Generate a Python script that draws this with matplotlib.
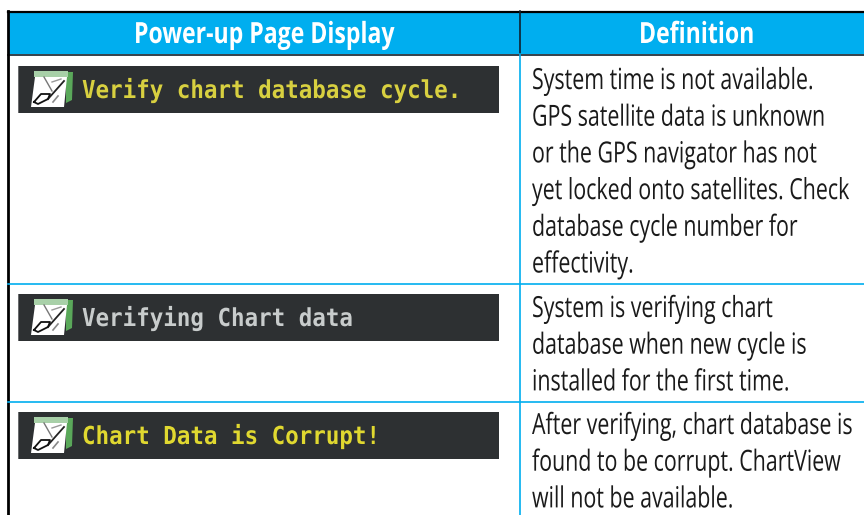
import matplotlib
matplotlib.use('Agg')
import matplotlib.pyplot as plt
from matplotlib.patches import Rectangle, Polygon
from matplotlib.patheffects import AbstractPathEffect
from matplotlib.transforms import Affine2D

headers = ['Power-up Page Display', 'Definition']
header_x = [134, 639]
screen_texts = ['Verify chart database cycle.', 'Verifying Chart data', 'Chart Data is Corrupt!']
screen_colors = ['#d8d040', '#c8cccc', '#e0d830']
definitions = [
    ['System time is not available.', 'GPS satellite data is unknown', 'or the GPS navigator has not',
     'yet locked onto satellites. Check', 'database cycle number for', 'effectivity.'],
    ['System is verifying chart', 'database when new cycle is', 'installed for the first time.'],
    ['After verifying, chart database is', 'found to be corrupt. ChartView', 'will not be available.'],
]
row_lines = [284, 401.5]
screen_tops = [66, 294, 412]
def_first_baseline = [89, 317, 434]

BLUE = '#00aeef'
LINE_GAP = 36.7


# no condensed font here, so use a smaller size and stretch the glyphs upward
class Tall(AbstractPathEffect):
    def __init__(self, k):
        super().__init__()
        self.k = k

    def draw_path(self, renderer, gc, tpath, affine, rgbFace=None):
        renderer.draw_path(gc, tpath, Affine2D().scale(1, self.k) + affine, rgbFace)


fig = plt.figure(figsize=(8.64, 5.15), dpi=100)
ax = fig.add_axes([0, 0, 1, 1])
ax.set_xlim(0, 864)
ax.set_ylim(515, 0)
ax.axis('off')

# header band
ax.add_patch(Rectangle((8, 11), 856, 43, fc=BLUE, ec='none'))
ax.plot([8, 864], [11.5, 11.5], color='black', lw=1.6)
ax.plot([8, 864], [54.5, 54.5], color='#10202c', lw=1.2)
ax.plot([8, 8], [11, 515], color='black', lw=2)
ax.plot([520.3, 520.3], [11, 54], color='#10202c', lw=1.2)
ax.plot([520.3, 520.3], [54, 515], color=BLUE, lw=1.2)
for label, x in zip(headers, header_x):
    t = ax.text(x, 43, label, color='white', fontsize=16.6, fontweight='bold', family='Open Sans', ha='left', va='baseline')
    t.set_path_effects([Tall(1.266)])

for y in row_lines:
    ax.plot([8, 864], [y, y], color=BLUE, lw=1.2)


def draw_icon(x, y):
    ax.add_patch(Polygon([(x + 35, y + 6), (x + 42, y + 6), (x + 41, y + 34), (x + 35, y + 37)], fc='#5aa85a', ec='none'))
    ax.add_patch(Rectangle((x + 3, y + 5), 34, 6, fc='#a8d0a8', ec='none'))
    ax.add_patch(Polygon([(x + 4, y + 11), (x + 36, y + 11), (x + 33, y + 41), (x, y + 41)], fc='white', ec='none'))
    ax.plot([x + 13, x + 21], [y + 11, y + 25], color='#777777', lw=1)
    ax.plot([x + 21, x + 30], [y + 16, y + 13], color='#999999', lw=1)
    ax.plot([x + 17, x + 33], [y + 33, y + 15], color='#222222', lw=1.3)
    ax.plot([x + 3, x + 10, x + 19, x + 17, x + 7, x + 3], [y + 36, y + 28, y + 28, y + 33, y + 38, y + 36], color='#111111', lw=1.3)
    ax.plot([x + 22, x + 27], [y + 36, y + 30], color='#888888', lw=1.2)


for top, label, col in zip(screen_tops, screen_texts, screen_colors):
    ax.add_patch(Rectangle((18, top), 481, 47, fc='#2d3032', ec='none'))
    ax.add_patch(Rectangle((18, top), 1.2, 47, fc='#6a6c6e', ec='none'))
    draw_icon(31, top)
    t = ax.text(82, top + 32, label, color=col, fontsize=16.2, fontweight='bold', family='DejaVu Sans Mono', ha='left', va='baseline')
    t.set_path_effects([Tall(1.099)])

for lines, base in zip(definitions, def_first_baseline):
    for i, line in enumerate(lines):
        t = ax.text(532, base + i * LINE_GAP, line, color='#1a1a1a', fontsize=15.4, family='Open Sans', ha='left', va='baseline')
        t.set_path_effects([Tall(1.36)])

fig.savefig('out.png', dpi=100)
